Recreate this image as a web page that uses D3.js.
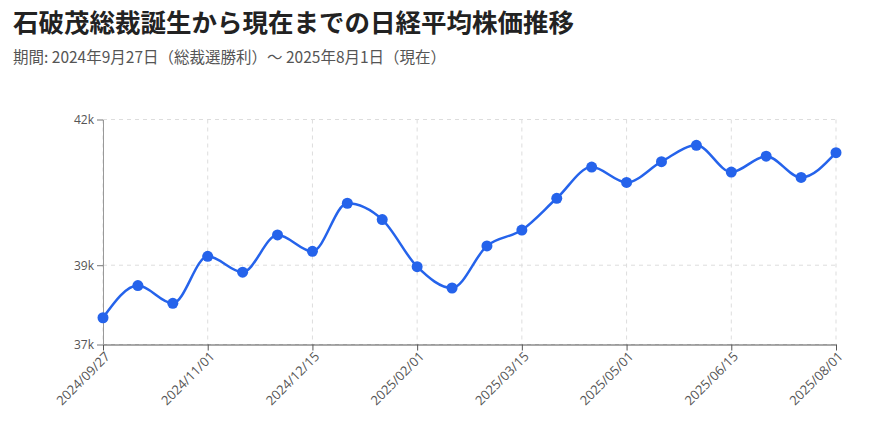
<!DOCTYPE html>
<html lang="ja">
<head>
<meta charset="utf-8">
<script src="https://cdn.jsdelivr.net/npm/d3@7"></script>
<style>
  html, body { margin: 0; padding: 0; background: #fff; }
  svg { display: block; font-family: "Noto Sans CJK JP", "Noto Sans", sans-serif; }
  .tick text { font-family: "Open Sans", "Noto Sans", sans-serif; }
</style>
</head>
<body>
<svg id="chart" width="878" height="429"></svg>
<script>
// Observation dates (category axis) and Nikkei 225 closes
const dates = [
  "2024/09/27", "2024/10/09", "2024/10/20", "2024/11/01", "2024/11/15", "2024/11/30",
  "2024/12/15", "2024/12/31", "2025/01/16", "2025/02/01", "2025/02/15", "2025/03/01",
  "2025/03/15", "2025/03/31", "2025/04/15", "2025/05/01", "2025/05/15", "2025/05/31",
  "2025/06/15", "2025/06/30", "2025/07/15", "2025/08/01"
];
const closes = [
  37940, 38590, 38230, 39180, 38860, 39610,
  39280, 40250, 39920, 38970, 38540, 39390,
  39710, 40350, 40980, 40670, 41090, 41420,
  40880, 41200, 40770, 41270
];
const yDomain = [37400, 41940];
const yTickValues = [37400, 39000, 41940];
const xTickEvery = 3;

const titleText = "石破茂総裁誕生から現在までの日経平均株価推移";
const subtitleText = "期間: 2024年9月27日（総裁選勝利）〜 2025年8月1日（現在）";

const svg = d3.select("#chart");
const W = 878, H = 429;
const margin = { top: 119.5, right: 42, bottom: 84.5, left: 103 };
const iw = W - margin.left - margin.right;
const ih = H - margin.top - margin.bottom;

svg.append("text")
  .attr("x", 13).attr("y", 32)
  .attr("font-size", 25.5).attr("font-weight", 700)
  .attr("fill", "#222")
  .text(titleText);

svg.append("text")
  .attr("x", 13).attr("y", 63)
  .attr("font-size", 15.5)
  .attr("fill", "#555")
  .text(subtitleText);

const g = svg.append("g").attr("transform", `translate(${margin.left},${margin.top})`);

const x = d3.scalePoint().domain(dates).range([0, iw]);
const y = d3.scaleLinear().domain(yDomain).range([ih, 0]);

const xTicks = dates.filter((d, i) => i % xTickEvery === 0);

// grid
const grid = g.append("g").attr("stroke", "#ddd").attr("stroke-dasharray", "4,4").attr("stroke-width", 1);
grid.selectAll("line.v").data(xTicks).join("line")
  .attr("x1", d => x(d)).attr("x2", d => x(d))
  .attr("y1", 0).attr("y2", ih);
grid.selectAll("line.h").data(yTickValues).join("line")
  .attr("x1", 0).attr("x2", iw)
  .attr("y1", d => y(d)).attr("y2", d => y(d));

// axes
const xAxis = g.append("g")
  .attr("transform", `translate(0,${ih})`)
  .call(d3.axisBottom(x).tickValues(xTicks).tickSizeOuter(0));
xAxis.select(".domain").attr("stroke", "#555");
xAxis.selectAll(".tick line").attr("stroke", "#555");
xAxis.selectAll(".tick text")
  .attr("font-size", 13)
  .attr("fill", "#555")
  .attr("text-anchor", "end")
  .attr("dx", "-0.3em")
  .attr("dy", "0.4em")
  .attr("transform", "rotate(-45)");

const yAxis = g.append("g")
  .call(d3.axisLeft(y).tickValues(yTickValues).tickFormat(d3.format(".2s")).tickSizeOuter(0));
yAxis.select(".domain").attr("stroke", "#999");
yAxis.selectAll(".tick line").attr("stroke", "#777");
yAxis.selectAll(".tick text").attr("font-size", 12).attr("fill", "#555");

// line + points
const series = dates.map((d, i) => ({ date: d, value: closes[i] }));

g.append("path")
  .datum(series)
  .attr("fill", "none")
  .attr("stroke", "#2563eb")
  .attr("stroke-width", 2.5)
  .attr("d", d3.line().x(d => x(d.date)).y(d => y(d.value)).curve(d3.curveMonotoneX));

g.selectAll("circle.pt").data(series).join("circle")
  .attr("class", "pt")
  .attr("cx", d => x(d.date))
  .attr("cy", d => y(d.value))
  .attr("r", 5.5)
  .attr("fill", "#2563eb");
</script>
</body>
</html>
